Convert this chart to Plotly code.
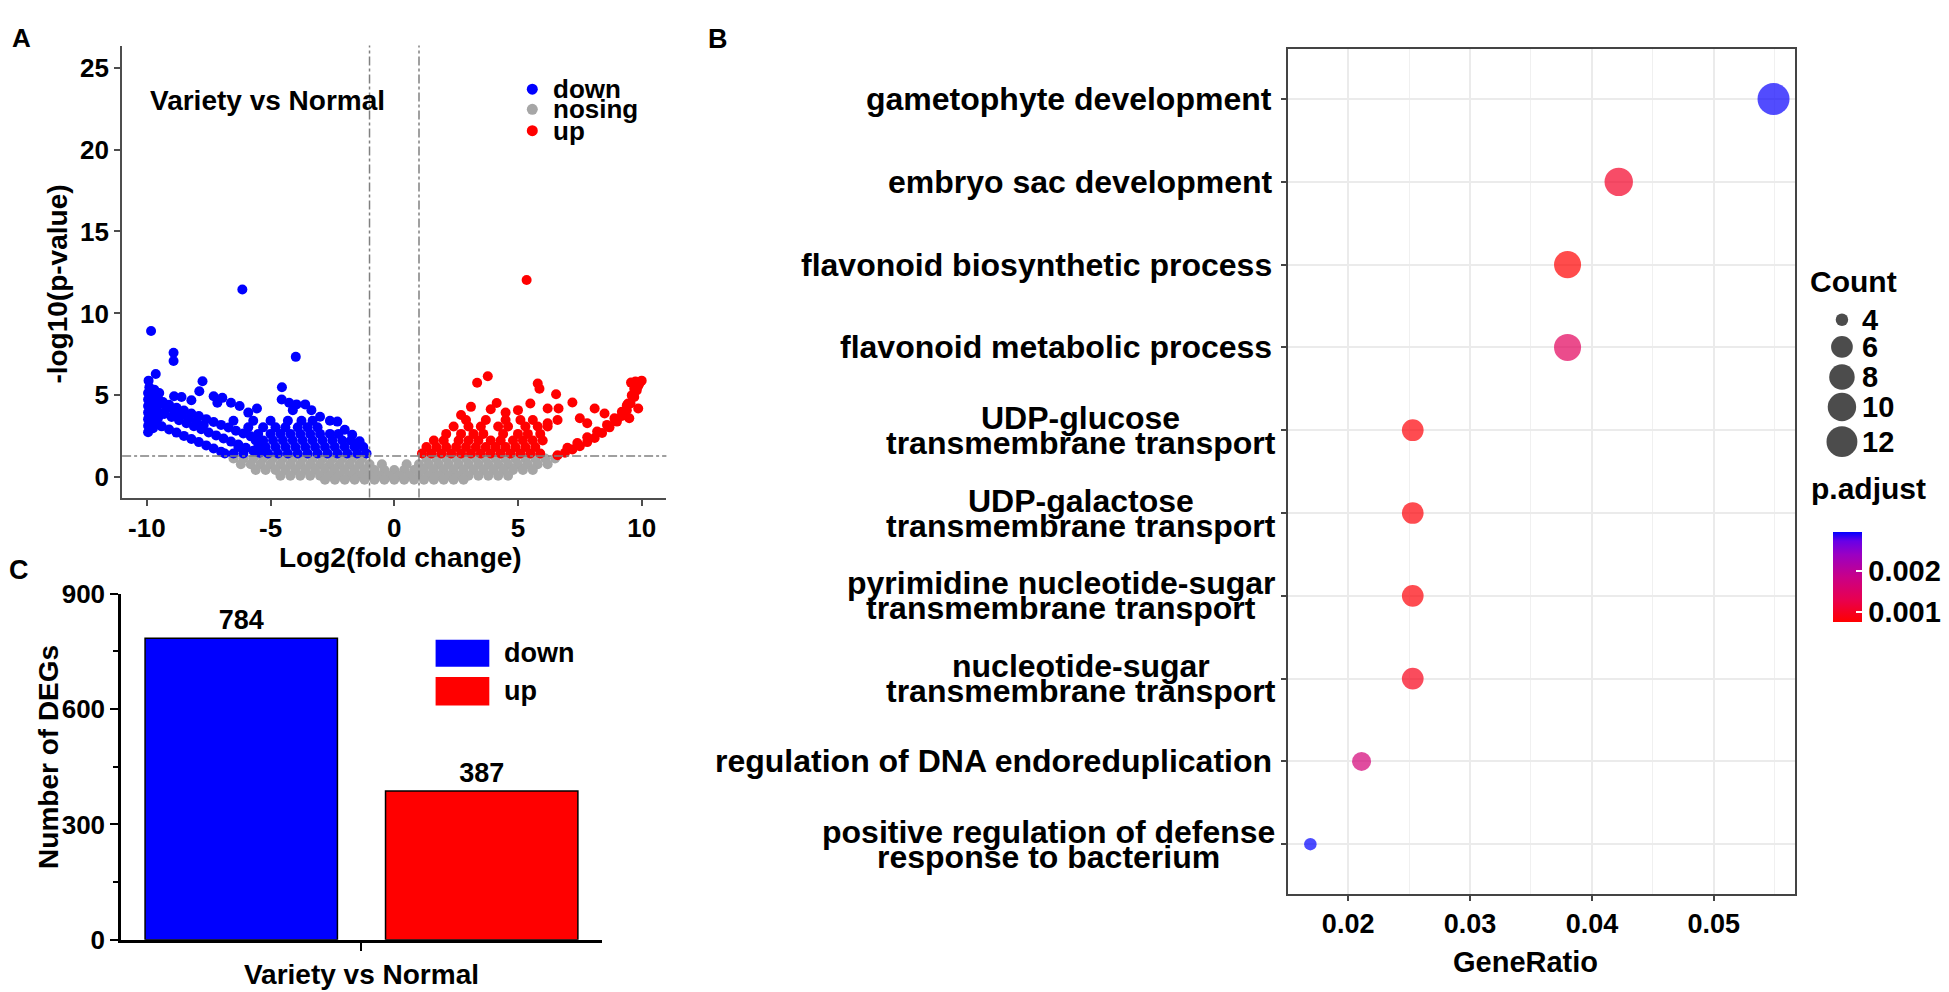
import plotly.graph_objects as go

W, H = 1949, 992
FONT = "Liberation Sans, Arial, Helvetica, sans-serif"

# ================= DATA =================
# ---- Panel A : volcano plot (Variety vs Normal) ----
fc_cut = 1.0      # |log2 fold change| threshold
p_cut = 1.3       # -log10(0.05)
vol_xticks = [-10, -5, 0, 5, 10]
vol_xticktext = ["-10", "-5", "0", "5", "10"]
vol_yticks = [0, 5, 10, 15, 20, 25]
vol_groups = ["down", "nosing", "up"]

nosig_row_y = [1.15, 0.8, 0.45, 0.1, -0.15]
nosig_row_x = [
    [-6.5, -6.1, -5.7, -5.3, -4.9, -4.5, -4.1, -3.7, -3.3, -2.9, -2.5, -2.1, -1.7, -1.3,
     1.3, 1.7, 2.1, 2.5, 2.9, 3.3, 3.7, 4.1, 4.5, 4.9, 5.3, 5.7, 6.1, 6.5],
    [-6.2, -5.8, -5.4, -5.0, -4.6, -4.2, -3.8, -3.4, -3.0, -2.6, -2.2, -1.8, -1.4, -1.0, -0.5,
     0.5, 1.0, 1.4, 1.8, 2.2, 2.6, 3.0, 3.4, 3.8, 4.2, 4.6, 5.0, 5.4, 5.8, 6.2],
    [-5.6, -5.2, -4.8, -4.4, -4.0, -3.6, -3.2, -2.8, -2.4, -2.0, -1.6, -1.2, -0.8, -0.4, 0.0,
     0.4, 0.8, 1.2, 1.6, 2.0, 2.4, 2.8, 3.2, 3.6, 4.0, 4.4, 4.8, 5.2, 5.6],
    [-4.6, -4.2, -3.8, -3.4, -3.0, -2.6, -2.2, -1.8, -1.4, -1.0, -0.6, -0.2,
     0.2, 0.6, 1.0, 1.4, 1.8, 2.2, 2.6, 3.0, 3.4, 3.8, 4.2, 4.6],
    [-2.8, -2.4, -2.0, -1.6, -1.2, -0.8, -0.4, 0.0, 0.4, 0.8, 1.2, 1.6, 2.0, 2.4, 2.8],
]

down_points = [
    (-6.14, 11.46), (-9.83, 8.93), (-8.92, 7.6), (-8.92, 7.1), (-3.98, 7.35), (-9.64, 6.31),
    (-9.93, 5.9), (-7.75, 5.86), (-4.54, 5.5), (-7.88, 5.25), (-8.6, 4.9), (-7.3, 4.95),
    (-6.95, 4.85), (-6.6, 4.55), (-6.25, 4.35), (-7.15, 4.55), (-8.2, 4.7), (-4.55, 4.75),
    (-4.25, 4.55), (-3.95, 4.45), (-3.6, 4.45), (-3.35, 4.1), (-4.1, 4.1), (-5.55, 4.2),
    (-5.9, 3.95), (-2.6, 3.45), (-2.3, 3.4), (-3.0, 3.7), (-2.0, 2.9), (-1.7, 2.6), (-1.4, 2.2),
    (-9.95, 2.75), (-9.95, 3.15), (-9.95, 3.55), (-9.95, 3.95), (-9.95, 4.35), (-9.95, 4.75),
    (-9.95, 5.15), (-9.9, 5.5), (-9.75, 3.0), (-9.75, 3.4), (-9.75, 3.8), (-9.75, 4.2),
    (-9.75, 4.6), (-9.75, 5.0), (-9.7, 5.35), (-9.55, 3.6), (-9.55, 4.0), (-9.55, 4.4),
    (-9.55, 4.8), (-9.5, 5.15),
    (-9.7, 3.31), (-9.4, 3.11), (-9.1, 2.92), (-8.8, 2.73), (-8.5, 2.53), (-8.2, 2.34),
    (-7.9, 2.15), (-7.6, 1.95), (-7.3, 1.76), (-7.0, 1.56), (-6.85, 1.45),
    (-9.3, 3.86), (-9.0, 3.68), (-8.7, 3.49), (-8.4, 3.3), (-8.1, 3.12), (-7.8, 2.93),
    (-7.5, 2.74), (-7.2, 2.56), (-6.9, 2.37), (-6.6, 2.18), (-6.3, 2.0), (-6.0, 1.81),
    (-5.7, 1.62), (-5.45, 1.5),
    (-9.35, 4.6), (-9.1, 4.43), (-8.8, 4.25), (-8.5, 4.08), (-8.2, 3.9), (-7.9, 3.74),
    (-7.6, 3.55), (-7.3, 3.38), (-7.0, 3.2), (-6.7, 3.04), (-6.4, 2.85), (-6.1, 2.68), (-5.8, 2.5),
    (-9.2, 4.2), (-8.9, 4.0), (-8.6, 3.8), (-8.3, 3.6), (-8.0, 3.4), (-7.7, 3.2), (-8.9, 4.95),
    (-6.5, 1.45), (-6.1, 1.45), (-5.1, 1.45), (-4.7, 1.45), (-4.3, 1.45), (-3.9, 1.45),
    (-3.5, 1.45), (-3.1, 1.45), (-2.7, 1.45), (-2.3, 1.45), (-1.9, 1.45), (-1.5, 1.45), (-1.12, 1.45),
    (-6.3, 1.85), (-5.5, 1.85), (-5.2, 1.85), (-4.8, 1.85), (-4.4, 1.85), (-4.0, 1.85),
    (-3.6, 1.85), (-3.2, 1.85), (-2.8, 1.85), (-2.4, 1.85), (-2.0, 1.85), (-1.6, 1.85), (-1.25, 1.85),
    (-5.6, 2.25), (-5.3, 2.25), (-4.9, 2.25), (-4.5, 2.25), (-4.1, 2.25), (-3.7, 2.25),
    (-3.3, 2.25), (-2.9, 2.25), (-2.5, 2.25), (-2.1, 2.25), (-1.75, 2.25),
    (-5.5, 2.65), (-5.0, 2.65), (-4.6, 2.65), (-4.2, 2.65), (-3.8, 2.65), (-3.4, 2.65),
    (-3.0, 2.65), (-2.6, 2.65), (-2.25, 2.65),
    (-5.9, 3.05), (-5.3, 3.05), (-4.8, 3.05), (-4.4, 3.05), (-3.9, 3.05), (-3.5, 3.05), (-3.1, 3.05),
    (-6.5, 3.45), (-5.7, 3.45), (-5.0, 3.45), (-4.3, 3.45), (-3.75, 3.45), (-3.3, 3.45),
]

up_points = [
    (5.35, 12.04), (3.35, 5.77), (3.78, 6.17), (5.8, 5.73), (5.87, 5.41), (6.54, 5.07),
    (7.2, 4.57), (4.14, 4.54), (3.9, 4.15), (4.5, 3.95), (3.1, 4.3), (2.7, 3.8), (5.0, 4.1),
    (5.5, 4.5), (6.2, 4.2), (6.64, 4.2), (6.6, 3.5), (7.5, 3.6), (6.2, 3.3), (8.1, 4.2),
    (8.5, 3.9), (7.8, 3.3), (9.45, 4.5), (9.86, 4.2), (9.5, 3.6), (8.93, 3.46), (9.57, 5.78),
    (9.7, 5.4),
    (1.12, 1.45), (1.5, 1.45), (1.9, 1.45), (2.3, 1.45), (2.7, 1.45), (3.1, 1.45), (3.5, 1.45),
    (3.9, 1.45), (4.3, 1.45), (4.7, 1.45), (5.1, 1.45), (5.5, 1.45), (5.9, 1.45),
    (1.3, 1.85), (1.7, 1.85), (2.1, 1.85), (2.5, 1.85), (2.9, 1.85), (3.3, 1.85), (3.7, 1.85),
    (4.1, 1.85), (4.5, 1.85), (4.9, 1.85), (5.3, 1.85), (5.7, 1.85),
    (1.6, 2.25), (2.0, 2.25), (2.6, 2.25), (3.0, 2.25), (3.4, 2.25), (3.9, 2.25), (4.3, 2.25),
    (4.8, 2.25), (5.2, 2.25), (5.6, 2.25), (6.0, 2.25),
    (2.1, 2.65), (2.7, 2.65), (3.2, 2.65), (3.6, 2.65), (4.4, 2.65), (5.0, 2.65), (5.4, 2.65), (5.9, 2.65),
    (2.4, 3.1), (3.0, 3.1), (3.5, 3.1), (4.2, 3.1), (4.6, 3.1), (5.3, 3.1), (5.8, 3.1), (6.2, 3.1),
    (2.9, 3.5), (3.7, 3.5), (4.5, 3.5), (5.1, 3.5), (5.6, 3.5),
    (6.6, 1.35), (6.9, 1.5), (7.2, 1.7), (7.5, 1.9), (7.8, 2.15), (8.1, 2.4), (8.4, 2.7),
    (8.7, 3.05), (9.0, 3.4), (9.2, 3.75), (9.4, 4.1), (9.55, 4.5), (9.7, 4.9), (9.8, 5.3),
    (9.9, 5.7), (10.0, 5.9), (9.75, 5.85),
    (7.0, 1.8), (7.4, 2.1), (7.8, 2.45), (8.2, 2.8), (8.6, 3.2), (8.9, 3.6), (9.2, 4.0),
    (9.4, 4.4), (9.6, 5.0), (9.85, 5.55),
]

# ---- Panel C : number of DEGs ----
deg_category = "Variety vs Normal"
deg_groups = ["down", "up"]
deg_counts = [784, 387]
deg_yticks = [0, 300, 600, 900]

# ---- Panel B : GO enrichment dot plot (top -> bottom) ----
go_terms = [
    "gametophyte development",
    "embryo sac development",
    "flavonoid biosynthetic process",
    "flavonoid metabolic process",
    "UDP-glucose\ntransmembrane transport",
    "UDP-galactose\ntransmembrane transport",
    "pyrimidine nucleotide-sugar\ntransmembrane transport",
    "nucleotide-sugar\ntransmembrane transport",
    "regulation of DNA endoreduplication",
    "positive regulation of defense\nresponse to bacterium",
]
gene_ratio = [0.0549, 0.0422, 0.0380, 0.0380, 0.0253, 0.0253, 0.0253, 0.0253, 0.0211, 0.0169]
go_count = [13, 10, 9, 9, 6, 6, 6, 6, 5, 4]
p_adjust = [0.00294, 0.00100, 0.00073, 0.00140, 0.00078, 0.00078, 0.00078, 0.00090, 0.00167, 0.00296]
ratio_ticks = [0.02, 0.03, 0.04, 0.05]
count_legend = [4, 6, 8, 10, 12]
padj_ticks = [0.001, 0.002]

# ================= STYLE / HELPERS =================
def fx(p):
    return p / W

def fy(p):
    return 1 - p / H

def tf(size, color="black"):
    return dict(family=FONT, size=size, color=color, weight="bold")

cmin_c, cmax_c = min(go_count), max(go_count)

def dot_size(c):
    return 12.5 + 19.5 * ((c - cmin_c) / (cmax_c - cmin_c)) ** 0.5

padj_scale = [[0, "#FF0000"], [0.25, "#E80050"], [0.5, "#C90088"],
              [0.75, "#9A00C3"], [0.9, "#6800E7"], [1, "#0000FF"]]

AW = {'a': 556, 'b': 611, 'c': 556, 'd': 611, 'e': 556, 'f': 333, 'g': 611, 'h': 611, 'i': 278,
      'j': 278, 'k': 556, 'l': 278, 'm': 889, 'n': 611, 'o': 611, 'p': 611, 'q': 611, 'r': 389,
      's': 556, 't': 333, 'u': 611, 'v': 556, 'w': 778, 'x': 556, 'y': 556, 'z': 500, ' ': 278,
      '-': 333, 'U': 722, 'D': 722, 'P': 667, 'N': 722, 'A': 722}

def text_w(s, size):
    return sum(AW.get(ch, 600) for ch in s) * size / 1000.0

annotations = []

def ann(text, x, y, size, xanchor="center", yanchor="middle", angle=0):
    annotations.append(dict(text=text, x=fx(x), y=fy(y), xref="paper", yref="paper",
                            xanchor=xanchor, yanchor=yanchor, textangle=angle,
                            showarrow=False, font=tf(size)))

fig = go.Figure()

# ================= PANEL A =================
nosig_x = [x for xs in nosig_row_x for x in xs]
nosig_y = [y for y, xs in zip(nosig_row_y, nosig_row_x) for _ in xs]
fig.add_trace(go.Scatter(x=nosig_x, y=nosig_y, mode="markers", xaxis="x", yaxis="y",
                         marker=dict(color="#A6A6A6", size=10, line=dict(width=0)),
                         showlegend=False, hoverinfo="skip"))
fig.add_trace(go.Scatter(x=[p[0] for p in down_points], y=[p[1] for p in down_points],
                         mode="markers", xaxis="x", yaxis="y",
                         marker=dict(color="#0000FF", size=10, line=dict(width=0)),
                         showlegend=False, hoverinfo="skip"))
fig.add_trace(go.Scatter(x=[p[0] for p in up_points], y=[p[1] for p in up_points],
                         mode="markers", xaxis="x", yaxis="y",
                         marker=dict(color="#FF0000", size=10, line=dict(width=0)),
                         showlegend=False, hoverinfo="skip"))

shapes = []
for xv in (-fc_cut, fc_cut):
    shapes.append(dict(type="line", xref="x", yref="y domain", x0=xv, x1=xv, y0=0, y1=1,
                       line=dict(color="#808080", width=1.5, dash="dashdot"), layer="above"))
shapes.append(dict(type="line", xref="x domain", yref="y", x0=0, x1=1, y0=p_cut, y1=p_cut,
                   line=dict(color="#808080", width=1.5, dash="dashdot"), layer="above"))

# ================= PANEL C =================
bar_colors = ["#0000FF", "#FF0000"]
for g, v, c in zip(deg_groups, deg_counts, bar_colors):
    fig.add_trace(go.Bar(x=[deg_category], y=[v], name=g, xaxis="x3", yaxis="y3",
                         marker=dict(color=c, line=dict(color="black", width=1.5)),
                         text=[str(v)], textposition="outside", textfont=tf(27),
                         cliponaxis=False, showlegend=False, hoverinfo="skip"))

# ================= PANEL B =================
cats = [t.replace("\n", " ") for t in go_terms]
fig.add_trace(go.Scatter(
    x=gene_ratio[::-1], y=cats[::-1], mode="markers", xaxis="x2", yaxis="y2",
    marker=dict(size=[dot_size(c) for c in go_count[::-1]], color=p_adjust[::-1],
                colorscale=padj_scale, line=dict(width=0), showscale=True,
                colorbar=dict(thickness=29, thicknessmode="pixels", len=110, lenmode="pixels",
                              x=fx(1824), xanchor="left", y=fy(515), yanchor="top",
                              tickvals=padj_ticks, ticktext=["0.001", "0.002"],
                              tickfont=tf(29), ticks="inside", tickcolor="white",
                              ticklen=6, tickwidth=1.5, outlinewidth=0)),
    showlegend=False, hoverinfo="skip"))

# ================= LEGENDS (overlay pixel axis) =================
fig.add_trace(go.Scatter(x=[527, 527, 527], y=[68.3, 89, 111], mode="markers",
                         xaxis="x4", yaxis="y4",
                         marker=dict(color=["#0000FF", "#A6A6A6", "#FF0000"], size=11,
                                     line=dict(width=0)),
                         showlegend=False, hoverinfo="skip"))
cnt_leg_y = [306, 334, 365, 396, 431.7]
fig.add_trace(go.Scatter(x=[1843.4] * len(count_legend), y=cnt_leg_y, mode="markers",
                         xaxis="x4", yaxis="y4",
                         marker=dict(color="black", size=[dot_size(c) for c in count_legend],
                                     line=dict(width=0)),
                         showlegend=False, hoverinfo="skip"))

# ---- annotations ----
ann("A", 14, 15, 26)
ann("B", 714, 17, 27)
ann("C", 11, 564, 27)

ann("Variety vs Normal", 141, 80, 28, xanchor="left")
for txt, yy in zip(vol_groups, [68.3, 89, 111]):
    ann(txt, 546, yy, 26, xanchor="left")
ann("-log10(p-value)", 50, 269, 28, angle=-90)
ann("Log2(fold change)", 395, 551, 28)

ann("Number of DEGs", 40, 757, 28, angle=-90)
shapes.append(dict(type="rect", xref="paper", yref="paper", x0=fx(429.8), x1=fx(483.8),
                   y0=fy(663.7), y1=fy(636.0), fillcolor="#0000FF", line=dict(width=0)))
shapes.append(dict(type="rect", xref="paper", yref="paper", x0=fx(429.8), x1=fx(483.8),
                   y0=fy(703.8), y1=fy(674.3), fillcolor="#FF0000", line=dict(width=0)))
ann("down", 497, 650, 27, xanchor="left")
ann("up", 497, 689, 27, xanchor="left")

# GO term labels (two-line labels centred on each other)
LBL = 32
n_terms = len(go_terms)
for i, t in enumerate(go_terms):
    idx = n_terms - 1 - i
    lines = t.split("\n")
    if len(lines) == 1:
        annotations.append(dict(text=t, x=fx(1273), y=idx, xref="paper", yref="y2",
                                xanchor="right", yanchor="middle", showarrow=False,
                                font=tf(LBL)))
    else:
        wmax = max(text_w(l, LBL) for l in lines)
        cx = 1273 - wmax / 2
        for l, ys in zip(lines, [12.5, -12.5]):
            annotations.append(dict(text=l, x=fx(cx), y=idx, xref="paper", yref="y2",
                                    xanchor="center", yanchor="middle", yshift=ys,
                                    showarrow=False, font=tf(LBL)))
ann("GeneRatio", 1525, 968, 29)
ann("Count", 1809, 267, 30, xanchor="left")
for c, yy in zip(count_legend, cnt_leg_y):
    ann(str(c), 1862, yy, 29, xanchor="left")
ann("p.adjust", 1810, 480, 30, xanchor="left")

# ================= LAYOUT =================
axA = dict(showline=True, linecolor="#4D4D4D", linewidth=2, ticks="outside", ticklen=6,
           tickwidth=2, tickcolor="#4D4D4D", showgrid=False, zeroline=False,
           tickfont=tf(26), fixedrange=True)

fig.update_layout(
    width=W, height=H, margin=dict(l=0, r=0, t=0, b=0),
    paper_bgcolor="white", plot_bgcolor="rgba(0,0,0,0)",
    font=dict(family=FONT, color="black"),
    barmode="group", bargap=0.0, bargroupgap=0.2,
    showlegend=False,
    xaxis=dict(domain=[fx(114.7), fx(661.8)], range=[-11, 11], tickvals=vol_xticks,
               ticktext=vol_xticktext, anchor="y", **axA),
    yaxis=dict(domain=[fy(489.3), fy(23.3)], range=[-1.23, 26.34], tickvals=vol_yticks,
               anchor="x", **axA),
    xaxis2=dict(domain=[fx(1286.3), fx(1796.2)], range=[0.01504, 0.05666], anchor="y2",
                tickvals=ratio_ticks, ticktext=["0.02", "0.03", "0.04", "0.05"],
                showline=True, mirror=True, linecolor="#444444", linewidth=1.8,
                ticks="outside", ticklen=5, tickwidth=1.5, tickcolor="#444444",
                tickfont=tf(27), showgrid=True, gridcolor="#EBEBEB", gridwidth=2,
                minor=dict(tickvals=[0.015, 0.025, 0.035, 0.045, 0.055], showgrid=True,
                           gridcolor="#F0F0F0", gridwidth=1.2, ticks=""),
                zeroline=False, fixedrange=True),
    yaxis2=dict(domain=[fy(898), fy(27.2)], type="category", categoryorder="array",
                categoryarray=cats[::-1], range=[-0.6, n_terms - 0.4], anchor="x2",
                showline=True, mirror=True, linecolor="#444444", linewidth=1.8,
                ticks="outside", ticklen=5, tickwidth=1.5, tickcolor="#444444",
                showticklabels=False, showgrid=True, gridcolor="#EBEBEB", gridwidth=2,
                zeroline=False, fixedrange=True),
    xaxis3=dict(domain=[fx(113.6), fx(597)], type="category", anchor="y3",
                showline=True, linecolor="black", linewidth=2.5, ticks="outside",
                ticklen=8, tickwidth=2, tickcolor="black", tickfont=tf(28),
                showgrid=False, zeroline=False, fixedrange=True),
    yaxis3=dict(domain=[fy(945.4), fy(588.5)], range=[0, 900], tickvals=deg_yticks, anchor="x3",
                showline=True, linecolor="black", linewidth=2.5, ticks="outside",
                ticklen=8, tickwidth=2, tickcolor="black", tickfont=tf(26),
                minor=dict(tickvals=[150, 450, 750], ticks="outside", ticklen=5,
                           tickwidth=2, tickcolor="black", showgrid=False),
                showgrid=False, zeroline=False, fixedrange=True),
    xaxis4=dict(domain=[0, 1], range=[0, W], visible=False, anchor="y4", fixedrange=True),
    yaxis4=dict(domain=[0, 1], range=[H, 0], visible=False, anchor="x4", fixedrange=True),
    shapes=shapes,
    annotations=annotations,
)

fig.write_html("out.html")
